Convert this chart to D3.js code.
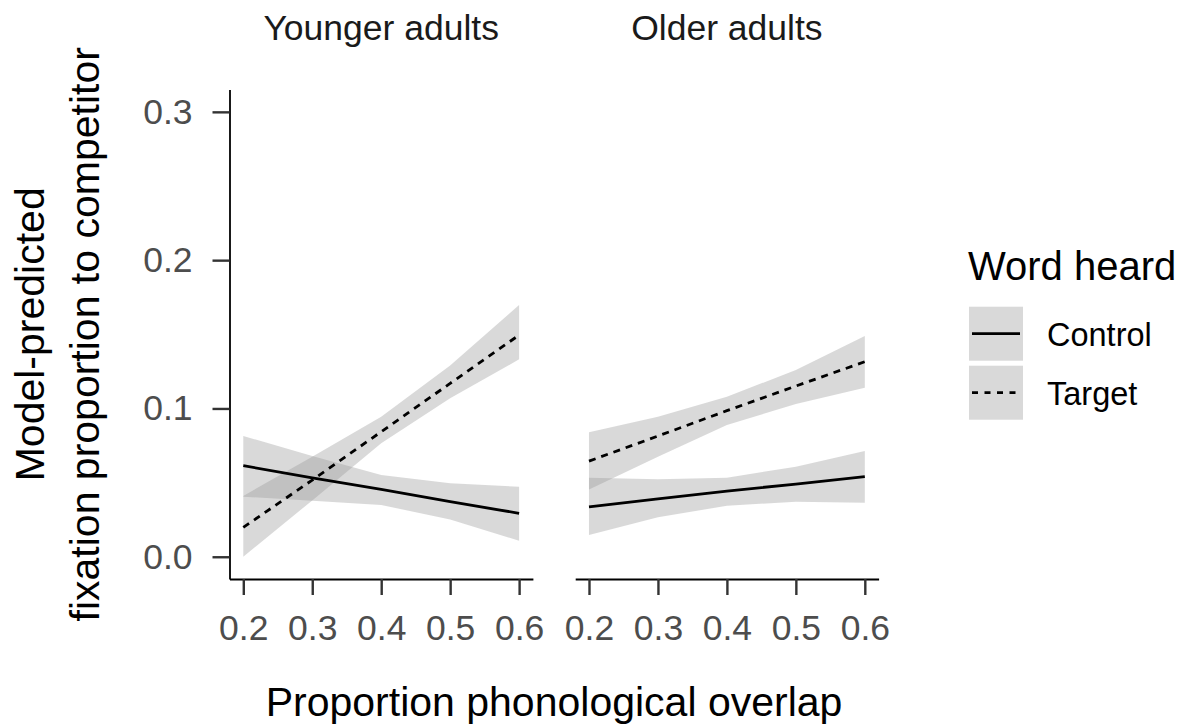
<!DOCTYPE html>
<html>
<head>
<meta charset="utf-8">
<script src="https://cdn.jsdelivr.net/npm/d3@7"></script>
<style>
  body { margin: 0; background: #fff; }
  svg { font-family: "Liberation Sans", Arial, Helvetica, sans-serif; }
</style>
</head>
<body>
<div id="chart"></div>
<script>
// values
const overlap = [0.2, 0.3, 0.4, 0.5, 0.6]
const groups = ['Younger adults', 'Older adults']
const wordHeard = ['Control', 'Target']
const xTicks = [0.2, 0.3, 0.4, 0.5, 0.6]
const yTicks = [0.0, 0.1, 0.2, 0.3]

// younger adults
const youngControlFit = [0.0614, 0.0532, 0.0454, 0.0371, 0.0293]
const youngControlLo  = [0.0405, 0.0378, 0.0349, 0.0252, 0.0108]
const youngControlHi  = [0.0814, 0.0680, 0.0551, 0.0495, 0.0472]
const youngTargetFit  = [0.0198, 0.0517, 0.0843, 0.1169, 0.1495]
const youngTargetLo   = [0.0000, 0.0380, 0.0765, 0.1068, 0.1331]
const youngTargetHi   = [0.0410, 0.0674, 0.0944, 0.1290, 0.1697]

// older adults
const oldControlFit = [0.0337, 0.0390, 0.0443, 0.0490, 0.0540]
const oldControlLo  = [0.0146, 0.0266, 0.0344, 0.0371, 0.0364]
const oldControlHi  = [0.0533, 0.0522, 0.0533, 0.0607, 0.0713]
const oldTargetFit  = [0.0645, 0.0814, 0.0985, 0.1151, 0.1315]
const oldTargetLo   = [0.0454, 0.0674, 0.0888, 0.1030, 0.1140]
const oldTargetHi   = [0.0839, 0.0944, 0.1079, 0.1259, 0.1488]

const series = {
    'Younger adults': {
        Control: {fit: youngControlFit, lo: youngControlLo, hi: youngControlHi},
        Target: {fit: youngTargetFit, lo: youngTargetLo, hi: youngTargetHi}
    },
    'Older adults': {
        Control: {fit: oldControlFit, lo: oldControlLo, hi: oldControlHi},
        Target: {fit: oldTargetFit, lo: oldTargetLo, hi: oldTargetHi}
    }
}

const width = 1188, height = 726
const panelLeft = [229.5, 575.2]
const panelWidth = 303.4
const plotTop = 89.6, plotBottom = 579

const svg = d3.select('#chart')
    .append('svg')
    .attr('width', width)
    .attr('height', height)

const y = d3.scaleLinear()
    .domain([-0.015, 0.315])
    .range([plotBottom, plotTop])

const dash = {Control: null, Target: '7,6'}

groups.forEach((grp, gi) => {
    const x = d3.scaleLinear()
        .domain([0.18, 0.62])
        .range([panelLeft[gi], panelLeft[gi] + panelWidth])

    const g = svg.append('g')

    const area = d3.area()
        .x((d, i) => x(overlap[i]))
        .y0(d => y(d.lo))
        .y1(d => y(d.hi))

    const line = d3.line()
        .x((d, i) => x(overlap[i]))
        .y(d => y(d))

    wordHeard.forEach(w => {
        const s = series[grp][w]
        const pts = overlap.map((v, i) => ({lo: s.lo[i], hi: s.hi[i]}))
        g.append('path')
            .attr('d', area(pts))
            .attr('fill', '#999999')
            .attr('fill-opacity', 0.37)
    })

    wordHeard.forEach(w => {
        g.append('path')
            .attr('d', line(series[grp][w].fit))
            .attr('fill', 'none')
            .attr('stroke', '#000')
            .attr('stroke-width', 2.8)
            .attr('stroke-dasharray', dash[w])
    })

    // x axis
    const xa = svg.append('g')
        .attr('transform', `translate(0,${plotBottom})`)
        .call(d3.axisBottom(x).tickValues(xTicks).tickFormat(d3.format('.1f'))
            .tickSize(16).tickPadding(20).tickSizeOuter(0))
    xa.select('.domain').attr('stroke', '#000').attr('stroke-width', 1.8)
    xa.selectAll('.tick line').attr('stroke', '#333').attr('stroke-width', 2.4)
    xa.selectAll('.tick text')
        .attr('fill', '#4d4d4d')
        .style('font-size', '35.5px')
        .style('font-family', '"Liberation Sans", Arial, sans-serif')

    // strip label
    svg.append('text')
        .attr('x', panelLeft[gi] + panelWidth / 2)
        .attr('y', 39.5)
        .attr('text-anchor', 'middle')
        .attr('fill', '#1a1a1a')
        .style('font-size', '35.5px')
        .text(grp)
})

// y axis only on the first panel
const ya = svg.append('g')
    .attr('transform', `translate(${panelLeft[0]},0)`)
    .call(d3.axisLeft(y).tickValues(yTicks).tickFormat(d3.format('.1f'))
        .tickSize(17).tickPadding(20).tickSizeOuter(0))
ya.select('.domain').attr('stroke', '#000').attr('stroke-width', 1.8)
ya.selectAll('.tick line').attr('stroke', '#333').attr('stroke-width', 2.4)
ya.selectAll('.tick text')
    .attr('fill', '#4d4d4d')
    .style('font-size', '35.5px')
    .style('font-family', '"Liberation Sans", Arial, sans-serif')

// axis titles
svg.append('text')
    .attr('x', (panelLeft[0] + panelLeft[1] + panelWidth) / 2)
    .attr('y', 716)
    .attr('text-anchor', 'middle')
    .style('font-size', '41px')
    .text('Proportion phonological overlap')

const yTitle = svg.append('text')
    .attr('transform', `translate(0,${(plotTop + plotBottom) / 2}) rotate(-90)`)
    .attr('text-anchor', 'middle')
    .style('font-size', '41px')
yTitle.append('tspan').attr('x', 0).attr('y', 44.3).text('Model-predicted')
yTitle.append('tspan').attr('x', 0).attr('y', 99.3).text('fixation proportion to competitor')

// legend
const legend = svg.append('g')
legend.append('text')
    .attr('x', 968)
    .attr('y', 280)
    .style('font-size', '40px')
    .text('Word heard')

wordHeard.forEach((w, i) => {
    const ky = 306.7 + i * 59
    legend.append('rect')
        .attr('x', 969)
        .attr('y', ky)
        .attr('width', 54)
        .attr('height', 54)
        .attr('fill', '#999999')
        .attr('fill-opacity', 0.37)
    legend.append('line')
        .attr('x1', 972)
        .attr('x2', 1020)
        .attr('y1', ky + 27)
        .attr('y2', ky + 27)
        .attr('stroke', '#000')
        .attr('stroke-width', 2.8)
        .attr('stroke-dasharray', w === 'Target' ? '6,6.5' : null)
    legend.append('text')
        .attr('x', 1047)
        .attr('y', ky + 39.3)
        .style('font-size', '32.5px')
        .text(w)
})
</script>
</body>
</html>
